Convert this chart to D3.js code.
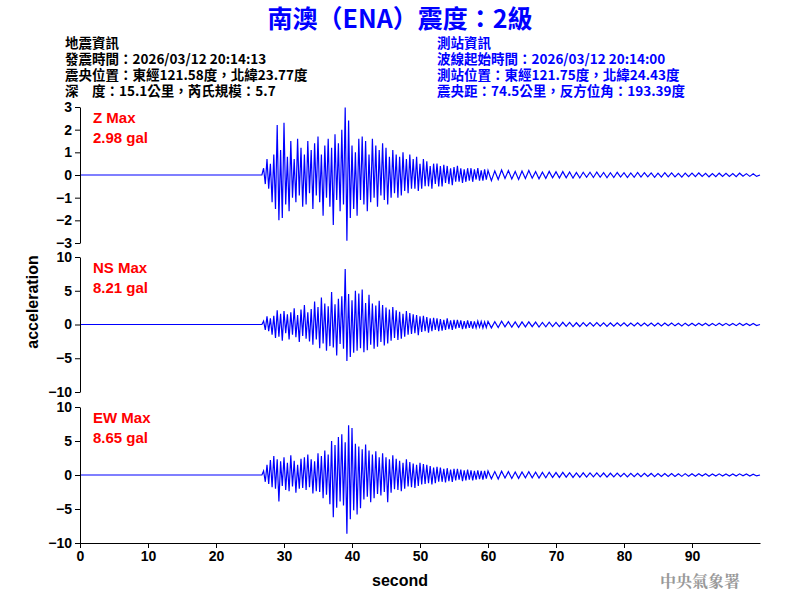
<!DOCTYPE html>
<html><head><meta charset="utf-8">
<script src="https://cdn.jsdelivr.net/npm/d3@7"></script>
<style>body{margin:0;background:#fff}</style></head>
<body><svg id="c" width="800" height="600"></svg>
<script>
const onset = 27, mainStep = 0.25, tailStart = 60, tailStep = 0.5;
const zMain = [0.3,-0.4,0.7,-0.6,0.5,-1.2,0.9,-1.5, 2.2,-2.0,1.1,-1.9,2.3,-1.3,0.8,-1.6, 1.5,-1.0,0.7,-1.2,1.6,-0.9,1.2,-1.4, 0.9,-1.3,1.5,-0.8,1.1,-1.5,1.4,-0.9, 1.7,-1.2,0.9,-1.8,1.3,-1.0,1.6,-1.4, 1.2,-2.2,1.8,-1.1,1.4,-1.6,2.0,-1.3, 2.98,-2.9,2.4,-1.9,1.3,-1.5,1.0,-1.8, 1.6,-1.1,1.7,-1.3,1.5,-1.6,0.9,-1.2, 1.6,-1.0,1.3,-1.4,1.1,-0.9,1.4,-1.1, 1.2,-1.3,0.8,-1.0,1.1,-0.8,0.9,-1.0, 0.8,-0.9,1.0,-0.7,0.7,-0.8,0.9,-0.6, 0.7,-0.6,0.8,-0.7,0.5,-0.6,0.7,-0.5, 0.6,-0.5,0.4,-0.6,0.5,-0.4,0.5,-0.5, 0.4,-0.5,0.45,-0.35,0.4,-0.4,0.3,-0.45, 0.35,-0.3,0.4,-0.3,0.3,-0.35,0.25,-0.3, 0.3,-0.25,0.3,-0.3,0.25,-0.2,0.3,-0.25, 0.2,-0.25,0.25,-0.2];
const zTail = [0.2,-0.25,0.18,-0.2,0.22,-0.15,0.2,-0.18,0.15,-0.2, 0.18,-0.15,0.2,-0.14,0.15,-0.17,0.13,-0.15,0.16,-0.12, 0.14,-0.13,0.15,-0.12,0.13,-0.14,0.11,-0.13,0.12,-0.1, 0.12,-0.11,0.13,-0.1,0.11,-0.12,0.1,-0.11,0.12,-0.09, 0.1,-0.11,0.09,-0.1,0.11,-0.09,0.1,-0.08,0.09,-0.1, 0.08,-0.09,0.1,-0.08,0.09,-0.08,0.07,-0.09,0.08,-0.07, 0.08,-0.07,0.09,-0.06,0.07,-0.08,0.06,-0.07,0.08,-0.06, 0.07,-0.06,0.06,-0.07,0.08,-0.05,0.06,-0.06,0.05,-0.06];
const nsMain = [0.5,-0.8,1.2,-1.0,0.9,-1.5,1.3,-2.0, 2.1,-1.8,1.6,-2.4,2.0,-1.3,1.5,-2.2, 1.8,-1.5,2.4,-1.9,1.4,-2.6,2.2,-1.7, 2.9,-2.1,1.8,-2.5,2.3,-3.0,3.4,-2.2, 2.6,-3.5,4.0,-2.8,3.1,-3.9,2.7,-3.2, 4.8,-3.4,3.0,-4.6,3.8,-2.9,4.2,-3.6, 8.21,-5.4,4.5,-4.8,3.6,-4.2,5.0,-3.9, 4.6,-3.5,5.2,-4.1,3.2,-3.8,4.4,-3.0, 3.1,-3.6,2.8,-3.3,3.5,-2.6,2.9,-3.1, 2.5,-2.8,2.2,-2.4,2.6,-2.0,2.1,-2.3, 1.9,-2.1,1.6,-1.8,2.0,-1.5,1.7,-1.4, 1.5,-1.3,1.4,-1.6,1.2,-1.1,1.3,-1.0, 1.1,-1.2,0.9,-1.0,1.0,-0.8,0.9,-1.0, 0.8,-0.9,0.7,-0.8,0.9,-0.7,0.6,-0.8, 0.7,-0.6,0.7,-0.5,0.6,-0.7,0.5,-0.6, 0.6,-0.5,0.5,-0.6,0.45,-0.5,0.5,-0.4, 0.45,-0.5,0.4,-0.45];
const nsTail = [0.45,-0.5,0.4,-0.45,0.5,-0.35,0.42,-0.4,0.38,-0.42, 0.38,-0.35,0.4,-0.32,0.36,-0.38,0.3,-0.34,0.35,-0.3, 0.32,-0.3,0.33,-0.28,0.3,-0.31,0.26,-0.3,0.28,-0.25, 0.27,-0.25,0.28,-0.24,0.26,-0.27,0.23,-0.25,0.26,-0.22, 0.24,-0.25,0.22,-0.23,0.25,-0.21,0.23,-0.2,0.22,-0.23, 0.2,-0.22,0.23,-0.19,0.21,-0.2,0.18,-0.21,0.2,-0.18, 0.19,-0.18,0.2,-0.16,0.18,-0.19,0.16,-0.17,0.18,-0.15, 0.17,-0.15,0.16,-0.17,0.18,-0.14,0.15,-0.16,0.14,-0.15];
const ewMain = [0.6,-1.0,1.5,-1.3,2.2,-1.8,2.8,-2.0, 2.3,-3.9,2.0,-1.6,2.6,-2.2,1.8,-2.4, 2.9,-1.7,2.1,-2.6,1.5,-2.0,2.4,-1.9, 2.6,-2.2,3.0,-1.8,2.3,-2.7,2.0,-2.4, 3.2,-2.5,2.8,-3.4,3.6,-2.9,3.0,-4.3, 5.0,-6.2,4.4,-4.8,5.6,-3.9,6.0,-4.5, 4.8,-8.65,7.3,-6.5,6.9,-5.2,4.6,-5.8, 4.2,-4.9,3.8,-3.6,4.5,-3.2,3.6,-4.0, 3.0,-3.4,3.5,-2.8,2.6,-3.0,3.2,-2.5, 2.6,-4.0,2.3,-2.6,2.9,-2.1,2.4,-2.2, 2.1,-2.4,1.8,-2.0,2.3,-1.7,1.9,-1.8, 1.7,-1.9,1.5,-1.6,1.8,-1.4,1.6,-1.3, 1.5,-1.2,1.3,-1.4,1.1,-1.2,1.2,-1.0, 1.1,-1.0,0.9,-1.1,1.0,-0.9,0.8,-1.0, 0.9,-0.8,0.9,-0.7,0.8,-0.9,0.7,-0.8, 0.8,-0.7,0.7,-0.8,0.6,-0.7,0.7,-0.6, 0.6,-0.7,0.6,-0.55];
const ewTail = [0.6,-0.55,0.5,-0.6,0.55,-0.45,0.5,-0.52,0.45,-0.5, 0.45,-0.42,0.48,-0.4,0.42,-0.45,0.38,-0.4,0.4,-0.36, 0.36,-0.35,0.38,-0.32,0.34,-0.36,0.3,-0.33,0.32,-0.3, 0.3,-0.28,0.31,-0.27,0.29,-0.3,0.26,-0.28,0.28,-0.25, 0.25,-0.27,0.24,-0.25,0.26,-0.23,0.24,-0.22,0.23,-0.24, 0.21,-0.23,0.22,-0.2,0.2,-0.21,0.19,-0.2,0.2,-0.18, 0.18,-0.17,0.19,-0.16,0.17,-0.18,0.15,-0.16,0.17,-0.15, 0.16,-0.14,0.15,-0.16,0.17,-0.13,0.14,-0.15,0.13,-0.14];

const panels = [
  {name:"Z Max", max:"2.98 gal", main:zMain, tail:zTail, dom:[-3,3], ticks:[-3,-2,-1,0,1,2,3], top:107, bot:243},
  {name:"NS Max", max:"8.21 gal", main:nsMain, tail:nsTail, dom:[-10,10], ticks:[-10,-5,0,5,10], top:257, bot:392},
  {name:"EW Max", max:"8.65 gal", main:ewMain, tail:ewTail, dom:[-10,10], ticks:[-10,-5,0,5,10], top:407, bot:543}
];
const xTicks = [0,10,20,30,40,50,60,70,80,90];

const svg = d3.select("#c");
const F = "'Liberation Sans', Arial, sans-serif";
const CJK = "'Noto Sans CJK TC', sans-serif";
const x = d3.scaleLinear().domain([0,100]).range([80,760]);

svg.append("text").attr("x",400).attr("y",28).attr("text-anchor","middle")
  .attr("fill","#0000ff").attr("font-family",CJK).attr("font-weight","bold").attr("font-size",25)
  .text("南澳（ENA）震度：2級");
const leftInfo = ["地震資訊","發震時間：2026/03/12 20:14:13","震央位置：東經121.58度，北緯23.77度","深　度：15.1公里，芮氏規模：5.7"];
const rightInfo = ["測站資訊","波線起始時間：2026/03/12 20:14:00","測站位置：東經121.75度，北緯24.43度","震央距：74.5公里，反方位角：193.39度"];
leftInfo.forEach((t,i)=>svg.append("text").attr("x",65).attr("y",48+i*16).attr("font-family",CJK).attr("font-weight","bold").attr("font-size",13.5).attr("fill","#000").text(t));
rightInfo.forEach((t,i)=>svg.append("text").attr("x",437).attr("y",48+i*16).attr("font-family",CJK).attr("font-weight","bold").attr("font-size",13.5).attr("fill","#0000ff").text(t));

panels.forEach((p,pi)=>{
  const y = d3.scaleLinear().domain(p.dom).range([p.bot,p.top]);
  const pts = [[0,0],[onset-0.25,0]];
  p.main.forEach((v,i)=>pts.push([onset+i*mainStep,v]));
  p.tail.forEach((v,i)=>pts.push([tailStart+i*tailStep,v]));
  pts.push([100,0]);
  svg.append("path").attr("d",d3.line().x(d=>x(d[0])).y(d=>y(d[1]))(pts))
    .attr("fill","none").attr("stroke","#0000ff").attr("stroke-width",1.2);
  const ax = svg.append("g").attr("transform","translate(80,0)")
    .call(d3.axisLeft(y).tickValues(p.ticks).tickFormat(d3.format("d")).tickSize(5).tickSizeOuter(0));
  ax.select(".domain").attr("stroke","#000");
  ax.selectAll("text").attr("font-family",F).attr("font-weight","bold").attr("font-size",14).attr("fill","#000");
  svg.append("text").attr("x",93).attr("y",p.top+16).attr("fill","#ff0000").attr("font-family",F).attr("font-weight","bold").attr("font-size",15).text(p.name);
  svg.append("text").attr("x",93).attr("y",p.top+36).attr("fill","#ff0000").attr("font-family",F).attr("font-weight","bold").attr("font-size",15).text(p.max);
  if(pi===2){
    const bx = svg.append("g").attr("transform",`translate(0,${p.bot})`)
      .call(d3.axisBottom(x).tickValues(xTicks).tickSize(5).tickSizeOuter(0));
    bx.selectAll("text").attr("font-family",F).attr("font-weight","bold").attr("font-size",14).attr("fill","#000");
  }
});
svg.append("text").attr("x",400).attr("y",586).attr("text-anchor","middle").attr("font-family",F).attr("font-weight","bold").attr("font-size",16).text("second");
svg.append("text").attr("transform","translate(38,302) rotate(-90)").attr("text-anchor","middle").attr("font-family",F).attr("font-weight","bold").attr("font-size",16).text("acceleration");
svg.append("text").attr("x",700).attr("y",587).attr("text-anchor","middle").attr("font-family","'Noto Serif CJK TC', "+CJK).attr("font-weight","bold").attr("font-size",16).attr("fill","#999").text("中央氣象署");
</script></body></html>
